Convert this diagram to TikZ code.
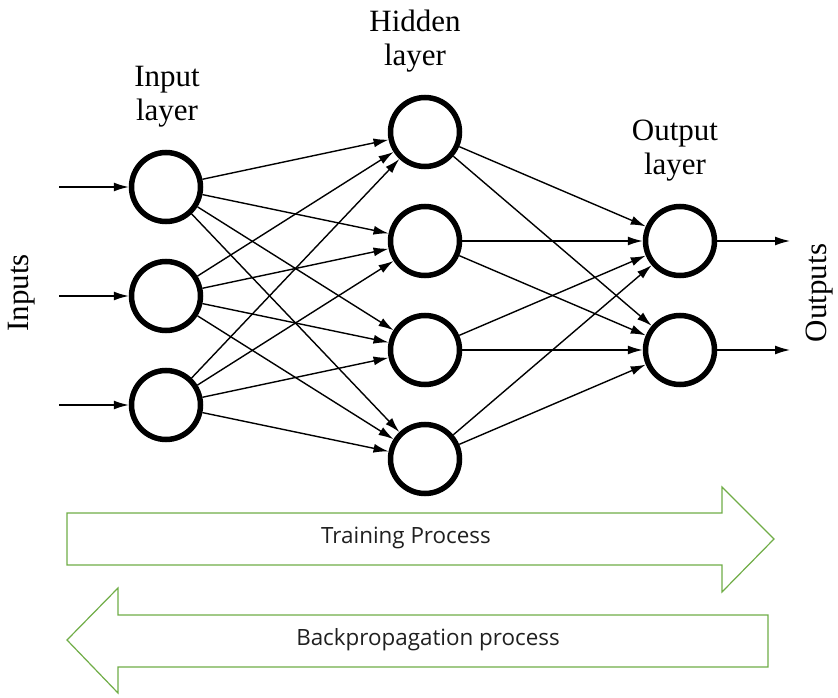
\documentclass[tikz,border=0pt]{standalone}
\usepackage{fontspec}
\setmainfont{Liberation Serif}
\newfontfamily\uisans{Open Sans}
\usetikzlibrary{arrows.meta}
\definecolor{arrowgreen}{HTML}{70AD47}
\definecolor{txtgray}{HTML}{202020}
\begin{document}
\begin{tikzpicture}[x=1pt,y=-1pt,
  neuron/.style={circle,draw,line width=5.5pt,minimum size=69pt,inner sep=0pt},
  conn/.style={line width=1.4pt,-{Latex[length=15pt,width=9pt]}},
  lbl/.style={font=\fontsize{31}{34}\selectfont,align=center,inner sep=0pt},
  bigarrow/.style={draw=arrowgreen,line width=1.2pt,fill=white,line join=miter},
  proclbl/.style={font=\uisans\fontsize{22.4}{26}\selectfont,text=txtgray,inner sep=0pt}]
\useasboundingbox (0,0) rectangle (838,698);

% neurons
\node[neuron] (i1) at (166,187) {};
\node[neuron] (i2) at (166,296) {};
\node[neuron] (i3) at (166,405) {};
\node[neuron] (h1) at (425,132) {};
\node[neuron] (h2) at (425,241) {};
\node[neuron] (h3) at (425,350) {};
\node[neuron] (h4) at (425,459) {};
\node[neuron] (o1) at (680,241) {};
\node[neuron] (o2) at (680,350) {};

% free ends
\coordinate (in1) at (59,187);
\coordinate (in2) at (59,296);
\coordinate (in3) at (59,405);
\coordinate (out1) at (790,241);
\coordinate (out2) at (790,350);

% connections
\foreach \k in {1,2,3} {\draw[conn] (in\k) -- (i\k);}
\foreach \a in {1,2,3} {\foreach \b in {1,2,3,4} {\draw[conn] (i\a) -- (h\b);}}
\foreach \a in {1,2,3,4} {\foreach \b in {1,2} {\draw[conn] (h\a) -- (o\b);}}
\foreach \k in {1,2} {\draw[conn] (o\k) -- (out\k);}

% labels
\node[lbl] (linput) at (167,97) {Input\\layer};
\node[lbl] (lhidden) at (415,41) {Hidden\\layer};
\node[lbl] (loutput) at (675,151) {Output\\layer};
\node[lbl,rotate=90] (linputs) at (22,293) {Inputs};
\node[lbl,rotate=90] (loutputs) at (820,293) {Outputs};

% process arrows
\draw[bigarrow] (67,513) -- (722,513) -- (722,487) -- (774,539) -- (722,592) -- (722,565) -- (67,565) -- cycle;
\node[proclbl] (train) at (406,538) {Training Process};
\draw[bigarrow] (67,640) -- (118,588) -- (118,615) -- (768,615) -- (768,667) -- (118,667) -- (118,693) -- cycle;
\node[proclbl] (back) at (428,640) {Backpropagation process};
\end{tikzpicture}
\end{document}
